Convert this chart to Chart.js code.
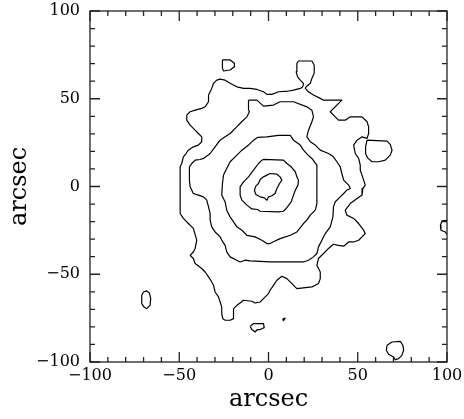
<!DOCTYPE html>
<html>
<head>
<meta charset="utf-8">
<script src="https://cdn.jsdelivr.net/npm/chart.js@4.4.1/dist/chart.umd.min.js"></script>
<style>
  html, body { margin: 0; padding: 0; background: #fff; }
  #wrap { width: 464px; height: 419px; }
</style>
</head>
<body>
<div id="wrap"><canvas id="c" width="464" height="419"></canvas></div>
<script>
// Contour levels, [x, y] in arcsec (outermost first)
const contourLevel1 = [
    [19.2, 56.8], [19.6, 58.8], [17.8, 60.6], [16.3, 62.5], [15.5, 65.4], [15.9, 70.2], [16.8, 71.5],
    [24.3, 71.5], [25.6, 69.2], [25.6, 64.5], [24.3, 61.6], [23.4, 58.8], [21.1, 56.8], [20.6, 55.9],
    [22.4, 54.0], [25.2, 52.1], [29.0, 50.2], [30.8, 49.2], [41.1, 49.2], [34.6, 42.6], [36.4, 40.7],
    [39.2, 37.8], [43.0, 37.8], [45.8, 39.7], [52.4, 39.7], [55.2, 36.9], [56.1, 34.0], [56.1, 30.2],
    [55.2, 27.4], [52.4, 28.3], [49.6, 26.4], [47.7, 23.6], [48.6, 18.8], [50.5, 16.0], [51.4, 12.2],
    [51.4, 9.3], [52.4, 6.5], [53.3, 3.6], [54.2, 0.8], [52.9, -1.1], [52.4, -4.9], [49.6, -6.8],
    [45.8, -9.7], [43.0, -13.5], [43.9, -16.3], [47.7, -18.2], [50.5, -21.1], [53.3, -24.9], [54.2, -26.8],
    [52.4, -28.7], [50.5, -30.6], [47.7, -31.6], [44.9, -31.6], [42.1, -34.0], [39.2, -33.5], [36.4, -32.9],
    [33.6, -35.3], [30.8, -38.2], [28.0, -41.0], [27.1, -44.9], [29.0, -48.7], [29.0, -52.5], [28.0, -55.3],
    [26.2, -56.3], [24.3, -57.2], [15.9, -58.2], [13.1, -55.3], [10.3, -52.5], [7.5, -51.1], [4.7, -53.4],
    [2.8, -56.3], [0.9, -59.1], [0.0, -61.0], [-2.8, -63.9], [-4.7, -65.8], [-7.5, -66.4], [-9.3, -65.4],
    [-14.0, -64.8], [-15.9, -66.4], [-17.7, -67.7], [-19.6, -69.6], [-19.6, -75.3], [-21.5, -76.2],
    [-24.3, -76.2], [-25.6, -75.3], [-26.2, -72.4], [-26.2, -68.7], [-27.1, -65.8], [-28.0, -62.9],
    [-29.9, -60.1], [-30.8, -56.3], [-31.8, -54.4], [-33.6, -51.5], [-35.5, -48.7], [-37.4, -46.7],
    [-41.1, -43.9], [-42.1, -41.0], [-43.9, -39.2], [-42.1, -37.3], [-41.1, -35.3], [-40.2, -30.6],
    [-42.1, -23.9], [-44.9, -21.1], [-47.7, -18.2], [-49.5, -15.4], [-49.5, 11.2], [-48.6, 13.1],
    [-47.7, 16.9], [-46.2, 18.8], [-44.9, 20.7], [-42.1, 22.6], [-39.3, 23.6], [-37.4, 25.5], [-37.4, 28.3],
    [-39.3, 30.2], [-42.1, 33.1], [-43.9, 35.0], [-45.8, 37.8], [-45.8, 40.7], [-43.9, 42.6], [-41.1, 43.5],
    [-37.4, 44.5], [-35.5, 45.4], [-33.6, 48.3], [-33.6, 52.1], [-32.7, 54.0], [-31.8, 55.9], [-30.8, 58.8],
    [-29.0, 60.6], [-27.1, 61.2], [-24.3, 60.6], [-21.5, 58.8], [-17.7, 56.8], [-14.0, 55.9], [-10.3, 55.9],
    [-6.5, 55.3], [-2.8, 54.0], [-0.9, 52.5], [1.9, 52.5], [5.6, 54.0], [11.2, 54.4], [14.0, 54.9],
    [17.8, 55.9], [19.2, 56.8]
];

const contourLevel2 = [
    [-11.2, 49.2], [-6.5, 49.2], [-2.8, 45.8], [2.8, 46.4], [6.5, 48.3], [14.0, 48.3], [21.5, 45.4],
    [24.3, 43.5], [25.2, 39.7], [24.3, 36.9], [22.4, 32.1], [21.5, 28.3], [23.4, 25.5], [26.2, 23.6],
    [29.0, 20.7], [33.6, 18.8], [36.4, 16.9], [38.3, 14.1], [40.2, 11.2], [41.1, 7.4], [42.1, 3.6],
    [44.9, 0.8], [45.8, -1.1], [43.9, -2.1], [42.1, -4.0], [40.2, -5.9], [37.4, -8.7], [36.4, -11.6],
    [36.1, -17.3], [34.6, -23.0], [31.8, -26.8], [29.9, -30.6], [28.0, -34.4], [27.1, -38.2], [25.2, -40.1],
    [22.4, -42.0], [19.6, -43.0], [15.0, -43.0], [0.9, -43.0], [-10.3, -42.4], [-13.1, -42.0], [-15.9, -43.0],
    [-17.8, -42.0], [-21.5, -40.1], [-23.4, -37.3], [-24.3, -33.5], [-25.6, -31.6], [-27.1, -28.7],
    [-29.9, -25.9], [-31.8, -23.0], [-32.7, -19.2], [-32.7, -15.4], [-33.6, -11.6], [-34.6, -7.8],
    [-36.4, -5.9], [-39.3, -4.9], [-42.1, -4.0], [-43.9, -0.2], [-44.3, 3.6], [-44.3, 11.2], [-43.0, 13.1],
    [-41.1, 15.0], [-38.3, 15.4], [-36.4, 16.0], [-32.7, 18.8], [-29.9, 22.6], [-27.1, 26.4], [-24.3, 28.3],
    [-21.5, 30.2], [-17.8, 34.0], [-15.0, 36.9], [-12.1, 39.7], [-10.7, 42.6], [-11.2, 43.5], [-11.2, 49.2]
];

const contourLevel3 = [
    [-6.0, 28.0], [-1.0, 28.3], [5.6, 29.1], [12.2, 29.1], [14.0, 26.4], [17.8, 23.6], [19.6, 20.7],
    [22.0, 18.0], [24.3, 16.0], [27.1, 12.2], [27.1, -9.7], [26.2, -13.5], [23.4, -16.3], [21.5, -19.2],
    [19.6, -21.1], [15.9, -25.9], [12.2, -27.8], [6.5, -29.7], [2.8, -31.5], [0.9, -32.5], [-0.9, -32.5],
    [-3.7, -30.6], [-7.5, -28.7], [-12.1, -27.8], [-14.9, -24.9], [-17.7, -23.0], [-19.6, -20.2],
    [-21.5, -17.3], [-23.4, -13.5], [-24.3, -8.8], [-26.2, -4.9], [-25.8, 1.7], [-25.2, 6.5], [-23.4, 10.3],
    [-21.5, 14.1], [-18.7, 16.9], [-14.9, 20.7], [-11.2, 23.6], [-8.4, 26.4], [-6.0, 28.0]
];

const contourLevel4 = [
    [-3.7, 15.0], [-2.8, 15.4], [8.4, 15.0], [10.3, 13.1], [12.7, 11.2], [15.0, 8.4], [15.9, 5.5],
    [16.8, 3.6], [16.5, 0.8], [15.0, -2.1], [14.0, -4.9], [12.7, -8.8], [10.3, -12.0], [8.4, -14.1],
    [5.6, -14.5], [-4.7, -14.1], [-6.0, -13.1], [-9.3, -12.8], [-12.1, -10.6], [-14.9, -7.8], [-15.9, -4.9],
    [-15.9, -0.2], [-14.0, 2.6], [-11.2, 5.5], [-8.4, 9.3], [-5.6, 13.1], [-3.7, 15.0]
];

const contourLevel5 = [
    [0.9, 7.4], [4.7, 7.0], [6.5, 5.5], [7.5, 3.6], [6.2, 1.7], [4.7, -1.1], [3.7, -4.0], [1.9, -5.3],
    [0.0, -5.9], [-0.9, -7.8], [-2.3, -6.5], [-4.7, -5.9], [-7.1, -4.5], [-7.9, -2.1], [-7.1, 0.2],
    [-5.6, 1.7], [-4.7, 4.0], [-2.8, 5.5], [-0.9, 6.5], [0.9, 7.4]
];

// small isolated islands of the lowest level
const islandTopLeft = [
    [-25.8, 72.1], [-21.5, 72.1], [-19.1, 70.2], [-19.1, 68.2], [-21.5, 66.4], [-25.2, 65.8], [-25.8, 67.3], [-25.8, 72.1]
];
const islandRight = [
    [55.2, 26.4], [66.4, 25.9], [68.2, 24.0], [69.2, 20.7], [68.2, 17.9], [65.4, 15.0], [61.7, 14.1],
    [58.0, 14.1], [55.5, 16.3], [54.4, 18.8], [54.4, 22.6], [55.2, 26.4]
];
const islandLeft = [
    [-71.0, -62.0], [-70.1, -60.1], [-68.2, -59.5], [-66.7, -60.7], [-66.0, -63.9], [-66.4, -67.7],
    [-68.2, -69.6], [-69.7, -68.7], [-71.0, -66.7], [-71.0, -62.0]
];
const islandBottom = [
    [-10.3, -79.7], [-8.4, -78.1], [-2.8, -78.1], [-2.4, -80.4], [-4.7, -81.5], [-6.2, -81.5],
    [-7.5, -82.9], [-9.3, -81.5], [-10.3, -79.7]
];
const islandTiny = [[7.9, -75.5], [9.3, -75.0], [8.4, -76.4], [7.9, -75.5]];
const islandBottomRight = [
    [66.4, -90.5], [69.2, -88.6], [73.8, -88.2], [75.3, -90.5], [75.7, -93.3], [74.7, -96.2],
    [72.9, -98.1], [71.0, -98.7], [70.1, -97.2], [67.3, -95.6], [66.0, -93.3], [66.4, -90.5]
];
const islandEdge = [[100.5, -19.2], [97.2, -19.6], [96.3, -22.1], [96.6, -24.9], [99.0, -25.9], [100.5, -27.8]];

const allContours = [
    contourLevel1, contourLevel2, contourLevel3, contourLevel4, contourLevel5,
    islandTopLeft, islandRight, islandLeft, islandBottom, islandTiny, islandBottomRight, islandEdge
];

const axisMin = -100;
const axisMax = 100;
const majorTicks = [-100, -50, 0, 50, 100];
const minorStep = 10;
const axisTitle = 'arcsec';

const labelFont = { family: 'DejaVu Serif', size: 16 };
const titleFont = { family: 'DejaVu Serif', size: 24 };
const fmtTick = v => String(v).replace('-', '\u2212');

// Frame with inward ticks on all four sides, like the old plotting packages
const frameTicks = {
    id: 'frameTicks',
    afterDraw(chart) {
        const { ctx, chartArea: a, scales } = chart;
        const xs = scales.x, ys = scales.y;
        ctx.save();
        ctx.strokeStyle = '#222';
        ctx.lineWidth = 1.3;
        ctx.strokeRect(a.left, a.top, a.right - a.left, a.bottom - a.top);
        ctx.beginPath();
        for (let v = axisMin; v <= axisMax; v += minorStep) {
            const len = majorTicks.includes(v) ? 10 : 5;
            const px = xs.getPixelForValue(v);
            ctx.moveTo(px, a.bottom); ctx.lineTo(px, a.bottom - len);
            ctx.moveTo(px, a.top);    ctx.lineTo(px, a.top + len);
            const py = ys.getPixelForValue(v);
            ctx.moveTo(a.left, py);  ctx.lineTo(a.left + len, py);
            ctx.moveTo(a.right, py); ctx.lineTo(a.right - len, py);
        }
        ctx.stroke();
        ctx.restore();
    }
};

const datasets = allContours.map((pts, i) => ({
    label: 'c' + i,
    data: pts.map(p => ({ x: p[0], y: p[1] })),
    showLine: true,
    borderColor: '#000',
    borderWidth: 1.2,
    pointRadius: 0,
    tension: 0,
    fill: false,
    borderJoinStyle: 'round'
}));

const axisCommon = {
    type: 'linear',
    min: axisMin,
    max: axisMax,
    grid: { display: false, drawTicks: false },
    border: { display: false },
    afterBuildTicks: s => { s.ticks = majorTicks.map(v => ({ value: v })); },
    title: { display: true, text: axisTitle, color: '#000', font: titleFont }
};

new Chart(document.getElementById('c'), {
    type: 'scatter',
    data: { datasets },
    options: {
        responsive: false,
        animation: false,
        events: [],
        layout: { padding: { top: 11, right: 17, left: 0, bottom: 0 } },
        plugins: { legend: { display: false }, tooltip: { enabled: false } },
        scales: {
            x: {
                ...axisCommon,
                position: 'bottom',
                ticks: { color: '#000', font: labelFont, padding: 4, maxRotation: 0, callback: fmtTick },
                title: { ...axisCommon.title, padding: { bottom: 5 } },
                afterFit: s => { s.height = 57; s.paddingLeft = 0; s.paddingRight = 0; }
            },
            y: {
                ...axisCommon,
                position: 'left',
                ticks: { color: '#000', font: labelFont, padding: 10, callback: fmtTick },
                title: { ...axisCommon.title, padding: { top: 5 } },
                afterFit: s => { s.width = 90; s.paddingTop = 0; s.paddingBottom = 0; }
            }
        }
    },
    plugins: [frameTicks]
});
</script>
</body>
</html>
